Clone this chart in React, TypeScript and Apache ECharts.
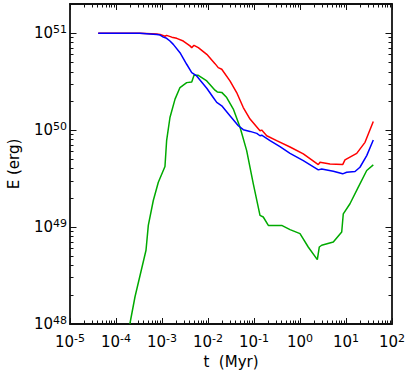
import React, { useEffect, useRef } from "react";
import * as echarts from "echarts";

// time (Myr) and energy (erg)
const redT = [4.1e-5, 3.3e-4, 7.7e-4, 9.1e-4, 1.16e-3, 1.26e-3, 1.63e-3, 2.09e-3, 2.9e-3, 4.06e-3, 4.43e-3, 4.97e-3, 6.15e-3, 9.4e-3, 1.42e-2, 1.67e-2, 1.99e-2, 3.0e-2, 4.2e-2, 5.85e-2, 8.2e-2, 0.135, 0.147, 0.189, 0.311, 0.607, 1.18, 2.5, 2.72, 4.49, 8.47, 9.5, 17.1, 25.9, 39.2];
const redE = [1.0e51, 1.0e51, 9.8e50, 9.7e50, 9.3e50, 9.5e50, 9.1e50, 8.85e50, 8.3e50, 7.4e50, 7.1e50, 7.5e50, 7.1e50, 6.05e50, 4.85e50, 4.41e50, 4.25e50, 3.22e50, 2.44e50, 1.71e50, 1.30e50, 9.86e49, 1.0e50, 8.75e49, 7.78e49, 6.7e49, 5.68e49, 4.41e49, 4.66e49, 4.48e49, 4.41e49, 4.93e49, 5.76e49, 7.48e49, 1.23e50];

const blueT = [4.1e-5, 3.3e-4, 7.7e-4, 9.1e-4, 1.07e-3, 1.26e-3, 1.49e-3, 1.76e-3, 2.46e-3, 3.44e-3, 4.43e-3, 5.67e-3, 9.4e-3, 1.30e-2, 1.55e-2, 1.99e-2, 3.0e-2, 4.56e-2, 5.85e-2, 8.2e-2, 0.115, 0.135, 0.147, 0.223, 0.367, 0.607, 1.18, 2.5, 2.96, 5.3, 8.47, 10.35, 15.7, 20.1, 28.2, 39.2];
const blueE = [1.0e51, 1.0e51, 9.7e50, 9.56e50, 9.1e50, 8.85e50, 8.3e50, 7.67e50, 6.29e50, 4.78e50, 3.92e50, 3.62e50, 2.70e50, 2.17e50, 1.93e50, 1.78e50, 1.41e50, 1.11e50, 1.01e50, 9.7e49, 9.25e49, 8.75e49, 8.87e49, 7.78e49, 6.75e49, 5.76e49, 4.85e49, 3.89e49, 3.98e49, 3.76e49, 3.54e49, 3.67e49, 3.74e49, 4.14e49, 5.46e49, 7.91e49];

const greenT = [2.0e-4, 2.59e-4, 4.49e-4, 5.04e-4, 6.47e-4, 8.32e-4, 1.16e-3, 1.26e-3, 1.49e-3, 1.92e-3, 2.46e-3, 3.44e-3, 4.43e-3, 4.97e-3, 6.15e-3, 9.4e-3, 1.42e-2, 1.59e-2, 1.99e-2, 2.55e-2, 3.55e-2, 4.97e-2, 6.93e-2, 9.66e-2, 0.135, 0.159, 0.205, 0.311, 0.40, 0.607, 1.0, 1.51, 2.38, 2.63, 2.96, 5.3, 8.07, 8.73, 12.2, 18.5, 28.2, 39.2];
const greenE = [1.0e48, 1.91e48, 5.76e48, 1.04e49, 1.88e49, 2.90e49, 4.21e49, 7.78e49, 1.35e50, 2.09e50, 2.75e50, 3.09e50, 3.14e50, 3.68e50, 3.68e50, 3.22e50, 2.58e50, 2.48e50, 2.45e50, 2.17e50, 1.65e50, 1.07e50, 6.14e49, 2.79e49, 1.32e49, 1.27e49, 1.04e49, 1.04e49, 1.04e49, 9.4e48, 8.55e48, 6.23e48, 4.62e48, 6.23e48, 6.49e48, 7.01e48, 8.89e48, 1.37e49, 1.74e49, 2.58e49, 3.83e49, 4.38e49];

// tick label exponents
const xTickExps = [-5, -4, -3, -2, -1, 0, 1, 2];
const yTickExps = [48, 49, 50, 51];
const xMin = 1e-5;
const xMax = 1e2;
const yMin = 1e48;
const yMax = 2e51;

const xName = "t  (Myr)";
const yName = "E (erg)";

const FONT = "DejaVu Sans";
const AXIS_COLOR = "#111";

function minorTicks(exps: number[], lo: number, hi: number): number[] {
  const out: number[] = [];
  for (const n of exps) {
    for (let k = 2; k <= 9; k++) {
      const v = Math.log10(k) + n;
      if (v > lo + 1e-6 && v < hi - 1e-6) out.push(v);
    }
  }
  return out;
}

function toData(t: number[], e: number[]) {
  return t.map((tv, i) => [Math.log10(tv), Math.log10(e[i])]);
}

const rich = {
  b: { fontSize: 15, lineHeight: 18, fontFamily: FONT, color: "#000", verticalAlign: "middle" },
  s: { fontSize: 11, lineHeight: 11, fontFamily: FONT, color: "#000", verticalAlign: "top" },
};

export default function App() {
  const ref = useRef<HTMLDivElement>(null);

  useEffect(() => {
    document.body.style.margin = "0";
    if (!ref.current) return;
    const chart = echarts.init(ref.current, undefined, { renderer: "svg" });

    const xlo = Math.log10(xMin);
    const xhi = Math.log10(xMax);
    const ylo = Math.log10(yMin);
    const yhi = Math.log10(yMax);
    const xMajor = xTickExps.slice();
    const yMajor = yTickExps.slice();
    const xMinor = minorTicks(xTickExps, xlo, xhi);
    const yMinor = minorTicks(yTickExps, ylo, yhi);

    const fmt = (v: number) => `{b|10}{s|${Math.round(v)}}`;

    const mkX = (position: string, major: boolean, labels: boolean, line: boolean): any => ({
      type: "value",
      position,
      min: xlo,
      max: xhi,
      splitLine: { show: false },
      axisLine: { show: line, onZero: false, lineStyle: { color: AXIS_COLOR, width: 1.8 } },
      axisTick: {
        show: true,
        inside: true,
        length: major ? 6 : 3.5,
        customValues: major ? xMajor : xMinor,
        lineStyle: { color: AXIS_COLOR, width: 1 },
      },
      axisLabel: labels
        ? { show: true, customValues: xMajor, formatter: fmt, rich, margin: 9, fontSize: 15, fontFamily: FONT }
        : { show: false },
      ...(labels
        ? {
            name: xName,
            nameLocation: "middle",
            nameGap: 27,
            nameTextStyle: { fontSize: 15, fontFamily: FONT, color: "#000" },
          }
        : {}),
    });

    const mkY = (position: string, major: boolean, labels: boolean, line: boolean): any => ({
      type: "value",
      position,
      min: ylo,
      max: yhi,
      splitLine: { show: false },
      axisLine: { show: line, onZero: false, lineStyle: { color: AXIS_COLOR, width: 1.8 } },
      axisTick: {
        show: true,
        inside: true,
        length: major ? 6.5 : 3.5,
        customValues: major ? yMajor : yMinor,
        lineStyle: { color: AXIS_COLOR, width: 1 },
      },
      axisLabel: labels
        ? { show: true, customValues: yMajor, formatter: fmt, rich, margin: 3, fontSize: 15, fontFamily: FONT }
        : { show: false },
      ...(labels
        ? {
            name: yName,
            nameLocation: "middle",
            nameRotate: 90,
            nameGap: 49,
            nameTextStyle: { fontSize: 15, fontFamily: FONT, color: "#000" },
          }
        : {}),
    });

    chart.setOption({
      animation: false,
      backgroundColor: "#fff",
      grid: { left: 70, right: 15, top: 4, bottom: 52, containLabel: false, outerBoundsMode: "none" },
      xAxis: [
        mkX("bottom", true, true, true),
        mkX("bottom", false, false, false),
        mkX("top", true, false, true),
        mkX("top", false, false, false),
      ],
      yAxis: [
        mkY("left", true, true, true),
        mkY("left", false, false, false),
        mkY("right", true, false, true),
        mkY("right", false, false, false),
      ],
      series: [
        {
          type: "line",
          data: toData(redT, redE),
          showSymbol: false,
          lineStyle: { color: "#ff0000", width: 1.5 },
          itemStyle: { color: "#ff0000" },
          clip: true,
        },
        {
          type: "line",
          data: toData(greenT, greenE),
          showSymbol: false,
          lineStyle: { color: "#00aa00", width: 1.5 },
          itemStyle: { color: "#00aa00" },
          clip: true,
        },
        {
          type: "line",
          data: toData(blueT, blueE),
          showSymbol: false,
          lineStyle: { color: "#0000ff", width: 1.5 },
          itemStyle: { color: "#0000ff" },
          clip: true,
        },
      ],
    });

    return () => chart.dispose();
  }, []);

  return (
    <div
      ref={ref}
      style={{ position: "absolute", left: 0, top: 0, width: 407, height: 376 }}
    />
  );
}
